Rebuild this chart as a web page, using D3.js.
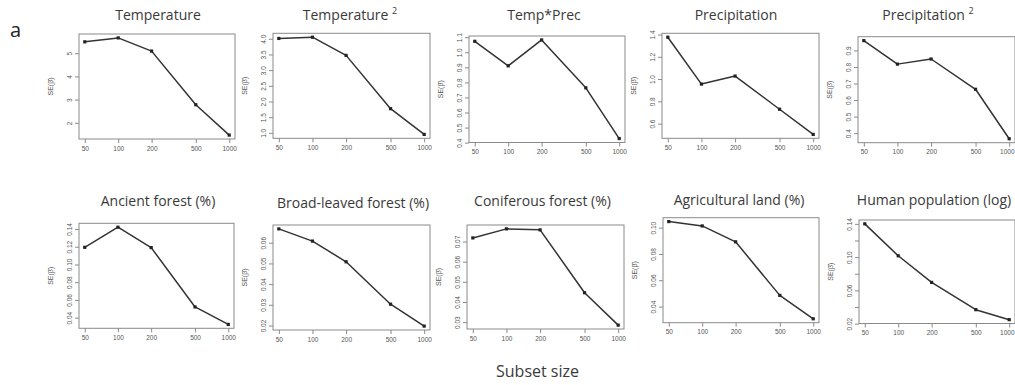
<!DOCTYPE html>
<html><head><meta charset="utf-8">
<script src="https://cdn.jsdelivr.net/npm/d3@7"></script>
<style>body{margin:0;background:#fff}svg{display:block}</style>
</head><body>
<script>
// ---- data ----
const subsetSizes = [50, 100, 200, 500, 1000];
const xTickLabels = ["50", "100", "200", "500", "1000"];
const panelTitles = ["Temperature", "Temperature", "Temp*Prec", "Precipitation", "Precipitation",
  "Ancient forest (%)", "Broad-leaved forest (%)", "Coniferous forest (%)", "Agricultural land (%)", "Human population (log)"];
const titleSuperscripts = ["", "2", "", "", "2", "", "", "", "", ""];
const seTemperature = [5.49, 5.66, 5.09, 2.78, 1.47];
const seTemperature2 = [4.01, 4.05, 3.47, 1.77, 0.95];
const seTempPrec = [1.073, 0.91, 1.082, 0.764, 0.427];
const sePrecipitation = [1.376, 0.955, 1.027, 0.729, 0.503];
const sePrecipitation2 = [0.959, 0.817, 0.848, 0.665, 0.366];
const seAncientForest = [0.1193, 0.142, 0.119, 0.0521, 0.0324];
const seBroadLeaved = [0.0667, 0.0608, 0.0508, 0.0303, 0.0197];
const seConiferous = [0.0718, 0.0763, 0.0758, 0.0446, 0.0285];
const seAgricultural = [0.1046, 0.1013, 0.0892, 0.0485, 0.0307];
const seHumanPop = [0.14, 0.1016, 0.0696, 0.0368, 0.0248];
const yTicksTemperature = [2, 3, 4, 5];
const yTicksTemperature2 = [1.0, 1.5, 2.0, 2.5, 3.0, 3.5, 4.0];
const yTicksTempPrec = [0.4, 0.5, 0.6, 0.7, 0.8, 0.9, 1.0, 1.1];
const yTicksPrecipitation = [0.6, 0.8, 1.0, 1.2, 1.4];
const yTicksPrecipitation2 = [0.4, 0.5, 0.6, 0.7, 0.8, 0.9];
const yTicksAncient = [0.04, 0.06, 0.08, 0.10, 0.12, 0.14];
const yTicksBroad = [0.02, 0.03, 0.04, 0.05, 0.06];
const yTicksConiferous = [0.03, 0.04, 0.05, 0.06, 0.07];
const yTicksAgricultural = [0.04, 0.06, 0.08, 0.10];
const yTicksHuman = [0.02, 0.04, 0.06, 0.08, 0.10, 0.12, 0.14];
const yLabelHuman = ["0.02", "", "0.06", "", "0.10", "", "0.14"];

const seriesList = [seTemperature, seTemperature2, seTempPrec, sePrecipitation, sePrecipitation2,
  seAncientForest, seBroadLeaved, seConiferous, seAgricultural, seHumanPop];
const tickList = [yTicksTemperature, yTicksTemperature2, yTicksTempPrec, yTicksPrecipitation, yTicksPrecipitation2,
  yTicksAncient, yTicksBroad, yTicksConiferous, yTicksAgricultural, yTicksHuman];
const tickFormats = [d3.format("d"), d3.format(".1f"), d3.format(".1f"), d3.format(".1f"), d3.format(".1f"),
  d3.format(".2f"), d3.format(".2f"), d3.format(".2f"), d3.format(".2f"), null];

// ---- layout (plot boxes: x, y, w, h; title centre x, title baseline y) ----
const layout = [
  {x: 79, y: 34, w: 156, h: 105, tx: 158, ty: 20},
  {x: 273, y: 33.3, w: 157, h: 105, tx: 350, ty: 20},
  {x: 469, y: 36, w: 156, h: 106.5, tx: 544, ty: 20},
  {x: 662, y: 33.3, w: 157, h: 105, tx: 736, ty: 20},
  {x: 858, y: 36.7, w: 157, h: 106, tx: 928, ty: 20},
  {x: 79, y: 223.3, w: 155, h: 105, tx: 158, ty: 206},
  {x: 273, y: 225, w: 157, h: 105, tx: 353, ty: 208},
  {x: 467, y: 225, w: 157, h: 104, tx: 542.5, ty: 206},
  {x: 663, y: 217.7, w: 156, h: 105, tx: 739, ty: 205},
  {x: 859, y: 220, w: 156, h: 103.5, tx: 934, ty: 205}
];

const W = 1015, H = 385;
const svg = d3.select("body").append("svg").attr("width", W).attr("height", H);

const tickFont = "Liberation Sans, Arial, sans-serif";
const titleFont = "Open Sans, sans-serif";

seriesList.forEach((vals, i) => {
  const L = layout[i];
  const lx = d3.extent(subsetSizes).map(Math.log10);
  const px = (lx[1] - lx[0]) * 0.04;
  const x = d3.scaleLog().domain([Math.pow(10, lx[0] - px), Math.pow(10, lx[1] + px)]).range([L.x, L.x + L.w]);
  const ey = d3.extent(vals);
  const py = (ey[1] - ey[0]) * 0.04;
  const y = d3.scaleLinear().domain([ey[0] - py, ey[1] + py]).range([L.y + L.h, L.y]);
  const g = svg.append("g");

  // box
  g.append("rect").attr("x", L.x).attr("y", L.y).attr("width", L.w).attr("height", L.h)
    .attr("fill", "none").attr("stroke", "#8a8a8a").attr("stroke-width", 1);

  // x axis
  const xa = g.append("g").attr("transform", `translate(0,${L.y + L.h})`)
    .call(d3.axisBottom(x).tickValues(subsetSizes).tickFormat((d, k) => xTickLabels[k])
      .tickSize(4).tickSizeOuter(0).tickPadding(3));
  xa.select(".domain").remove();
  xa.selectAll(".tick line").attr("stroke", "#8a8a8a");
  xa.selectAll(".tick text").attr("font-family", tickFont).attr("font-size", 6.5).attr("fill", "#555")
    .each(function(d) {
      // keep labels inside the page
      const bb = this.getBBox();
      const cx = x(d);
      if (cx + bb.width / 2 > W - 1) d3.select(this).attr("text-anchor", "end").attr("x", W - 1 - cx);
    });

  // y axis
  const fmt = tickFormats[i] ? tickFormats[i] : ((d, k) => yLabelHuman[k]);
  const ya = g.append("g").attr("transform", `translate(${L.x},0)`)
    .call(d3.axisLeft(y).tickValues(tickList[i]).tickFormat(fmt).tickSize(4).tickSizeOuter(0).tickPadding(3));
  ya.select(".domain").remove();
  ya.selectAll(".tick line").attr("stroke", "#8a8a8a");
  ya.selectAll(".tick text").attr("font-family", tickFont).attr("font-size", 6.5).attr("fill", "#555")
    .attr("text-anchor", "middle").attr("x", 0).attr("y", 0)
    .attr("transform", "translate(-9,0) rotate(-90)").attr("dy", "0.35em");

  // y label
  g.append("text").attr("transform", `translate(${L.x - 26},${L.y + L.h / 2}) rotate(-90)`)
    .attr("text-anchor", "middle").attr("font-family", tickFont).attr("font-size", 7).attr("fill", "#555")
    .text("SE(\u03B2\u0302)");

  // line
  const line = d3.line().x((d, k) => x(subsetSizes[k])).y(d => y(d));
  g.append("path").datum(vals).attr("d", line).attr("fill", "none")
    .attr("stroke", "#333").attr("stroke-width", 1.5).attr("stroke-linejoin", "round");
  g.selectAll("rect.pt").data(vals).enter().append("rect").attr("class", "pt")
    .attr("x", (d, k) => x(subsetSizes[k]) - 1.6).attr("y", d => y(d) - 1.6)
    .attr("width", 3.2).attr("height", 3.2).attr("fill", "#222");

  // title
  const t = svg.append("text").attr("x", L.tx).attr("y", L.ty).attr("text-anchor", "middle")
    .attr("font-family", titleFont).attr("font-size", 14).attr("fill", "#3a3a3a");
  t.append("tspan").text(panelTitles[i]);
  if (titleSuperscripts[i]) {
    t.append("tspan").text(" ");
    t.append("tspan").attr("font-size", 9).attr("dy", -6).text(titleSuperscripts[i]);
  }
});

svg.append("text").attr("x", 10).attr("y", 37).attr("font-family", titleFont).attr("font-size", 20)
  .attr("fill", "#222").text("a");
svg.append("text").attr("x", 537.5).attr("y", 377).attr("text-anchor", "middle")
  .attr("font-family", titleFont).attr("font-size", 16).attr("fill", "#3a3a3a").text("Subset size");
</script>
</body></html>
